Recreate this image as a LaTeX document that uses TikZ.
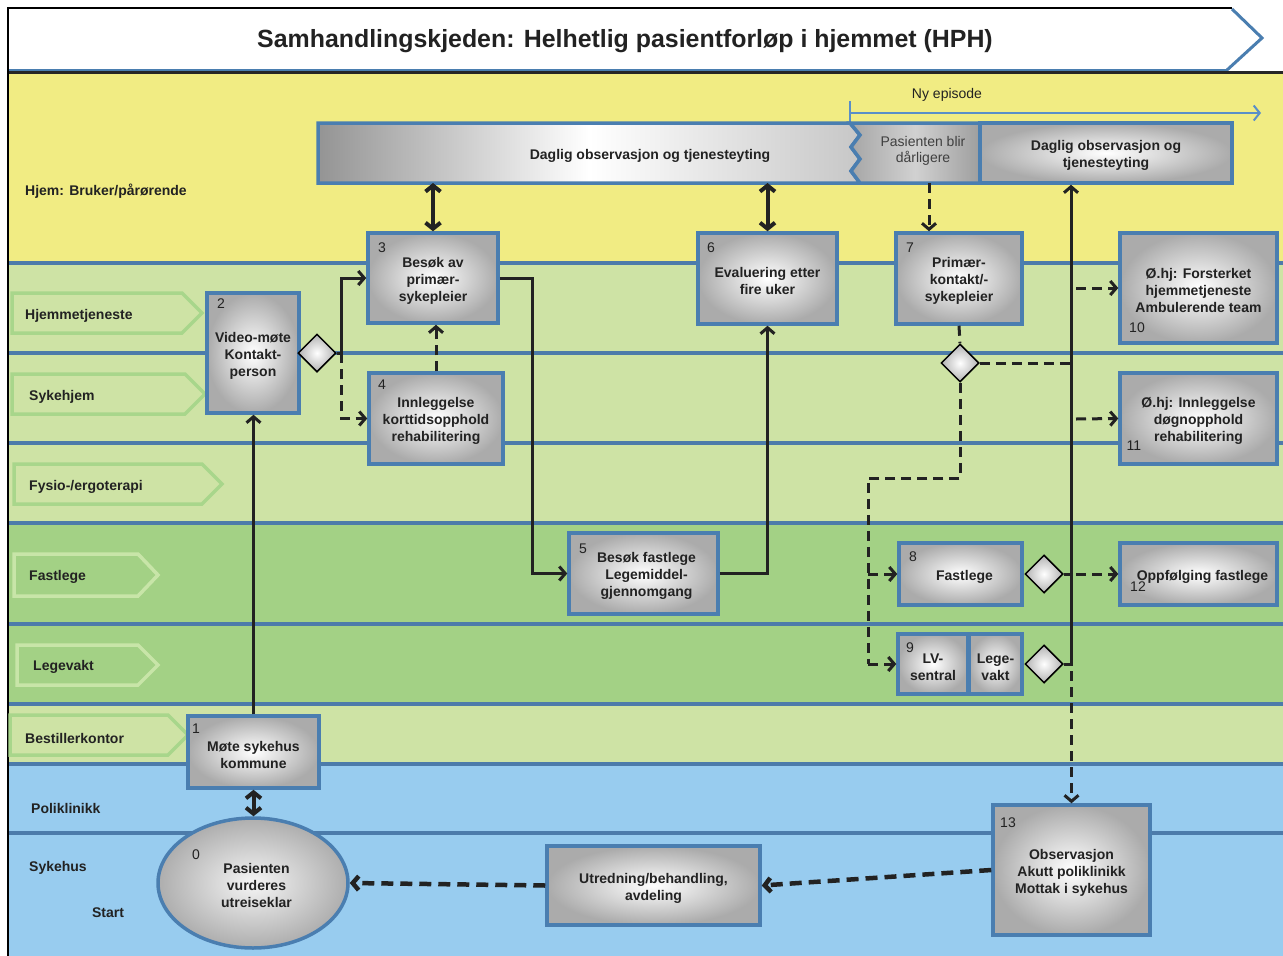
\documentclass[tikz,border=0pt]{standalone}
\usepackage{fontspec}
\setmainfont{Liberation Sans}
\usetikzlibrary{arrows.meta,shapes.geometric,calc}
\definecolor{yel}{HTML}{F1EC83}
\definecolor{lgreen}{HTML}{CEE3A5}
\definecolor{dgreen}{HTML}{A3D185}
\definecolor{lblue}{HTML}{98CCEF}
\definecolor{laneline}{HTML}{4C7BAA}
\definecolor{boxborder}{HTML}{4A7EB0}
\definecolor{chev}{HTML}{A8D68B}
\definecolor{chevlight}{HTML}{C8E5A8}
\definecolor{txt}{HTML}{222222}
\definecolor{nyblue}{HTML}{5A8FC8}
\newcommand\bxstrut{\rule{0pt}{15.5pt}}
\tikzset{
  box/.style={draw=boxborder, line width=3.5pt, inner color=white, outer color=black!33,
    inner sep=0pt, align=center, font=\bfseries\fontsize{14}{17}\selectfont, text=txt},
  num/.style={font=\fontsize{14}{14}\selectfont, text=txt, inner sep=0pt},
  lanelabel/.style={font=\bfseries\fontsize{14}{16}\selectfont, anchor=west, inner sep=0pt, text=txt},
  decision/.style={diamond, aspect=1, draw=black, line width=1.5pt, inner color=white, outer color=black!30,
    minimum width=38pt, minimum height=38pt, inner sep=0pt},
  arr/.style={draw=txt, line width=3pt, -{Straight Barb[length=6pt,width=14pt]}},
  plain/.style={draw=txt, line width=3pt},
  darr/.style={arr, dash pattern=on 10pt off 6pt},
  dplain/.style={plain, dash pattern=on 10pt off 6pt},
  dbl/.style={draw=txt, line width=4pt, {Straight Barb[length=6pt,width=15pt]}-{Straight Barb[length=6pt,width=15pt]}},
  chevron/.style={draw=chev, line width=3.5pt},
  chevronl/.style={draw=chevlight, line width=3.5pt},
  lane/.style={draw=laneline, line width=4pt}
}
\begin{document}
\begin{tikzpicture}[x=1pt,y=-1pt]
\useasboundingbox (0,0) rectangle (1283,956);
% backgrounds
\fill[white] (0,0) rectangle (1283,956);
\fill[yel] (8,72) rectangle (1283,263);
\fill[lgreen] (8,263) rectangle (1283,523);
\fill[dgreen] (8,523) rectangle (1283,705);
\fill[lgreen] (8,705) rectangle (1283,765);
\fill[lblue] (8,765) rectangle (1283,956);
% lane lines
\foreach \yy in {263,353,443,523,624,704,764,833} \draw[lane] (8,\yy) -- (1283,\yy);
% title frame
\draw[boxborder, line width=3pt] (8,70) -- (1228,70);
\draw[black!85, line width=2.5pt] (8,72.5) -- (1283,72.5);
\draw[boxborder, line width=3pt] (1232,9) -- (1262,38) -- (1227,70);
\draw[black, line width=2.5pt] (8,956) -- (8,8) -- (1232,8);
\node[font=\bfseries\fontsize{24.9}{26}\selectfont, text=txt] (title) at (625,41) {Samhandlingskjeden: Helhetlig pasientforløp i hjemmet (HPH)};
% lane chevrons
\draw[chevron] (12,293) -- (182,293) -- (202,313) -- (182,333) -- (12,333) -- cycle;
\draw[chevron] (12,374) -- (185,374) -- (205,394) -- (185,414) -- (12,414) -- cycle;
\draw[chevron] (14,464) -- (202,464) -- (222,484) -- (202,504) -- (14,504) -- cycle;
\draw[chevronl] (14,554) -- (138,554) -- (158,575) -- (138,596) -- (14,596) -- cycle;
\draw[chevronl] (17,645) -- (138,645) -- (158,665) -- (138,685) -- (17,685) -- cycle;
\draw[chevron] (10,715) -- (168,715) -- (188,735) -- (168,755) -- (10,755) -- cycle;
% lane labels
\node[lanelabel] (lhjem) at (25,191) {Hjem: Bruker/pårørende};
\node[lanelabel] (lhjt) at (25,316) {Hjemmetjeneste};
\node[lanelabel] (lsyk) at (29,397) {Sykehjem};
\node[lanelabel] (lfys) at (29,487) {Fysio-/ergoterapi};
\node[lanelabel] (lfast) at (29,577) {Fastlege};
\node[lanelabel] (llv) at (33,667) {Legevakt};
\node[lanelabel] (lbest) at (25,738) {Bestillerkontor};
\node[lanelabel] (lpol) at (31,808) {Poliklinikk};
\node[lanelabel] (lsh) at (29,868) {Sykehus};
\node[lanelabel, anchor=center] (lstart) at (108,913) {Start};
% Ny episode
\draw[nyblue, line width=2pt] (850,101) -- (850,124);
\coordinate (nyA) at (850,113);
\coordinate (nyB) at (1261,113);
\draw[nyblue, line width=2pt, -{Straight Barb[length=6pt,width=15pt]}] (nyA) -- (nyB);
\node[font=\fontsize{14}{14}\selectfont, text=txt] (ny) at (947,95) {Ny episode};
% top boxes
\path[draw=boxborder, line width=3.5pt, left color=black!42, right color=black!22, middle color=white]
  (318,123) -- (850,123) -- (860,135) -- (851,147) -- (860,159) -- (851,171) -- (860,183) -- (318,183) -- cycle;
\node[font=\bfseries\fontsize{14}{17}\selectfont, text=txt] (daglig1) at (650,156) {Daglig observasjon og tjenesteyting};
\path[draw=boxborder, line width=3.5pt, left color=black!35, right color=black!38, middle color=black!18]
  (850,123) -- (980,123) -- (980,183) -- (860,183) -- (851,171) -- (860,159) -- (851,147) -- (860,135) -- cycle;
\node[align=center, font=\fontsize{14}{16}\selectfont, text=black!75] (pas) at (923,151) {Pasienten blir\\dårligere};
\node[box, minimum width=252pt, minimum height=60pt] (daglig2) at (1106,153) {\bxstrut Daglig observasjon og\\tjenesteyting};
\coordinate (bigS3) at (433,183);
\coordinate (bigS6) at (767.5,183);
\coordinate (pasS) at (929,183);
% process boxes
\node[box, minimum width=131pt, minimum height=72pt] (n1) at (253.5,752) {\bxstrut Møte sykehus\\kommune};
\node[box, minimum width=92pt, minimum height=120pt] (n2) at (253,353) {\bxstrut Video-møte\\Kontakt-\\person};
\node[box, minimum width=130pt, minimum height=90pt] (n3) at (433,278) {\bxstrut Besøk av\\primær-\\sykepleier};
\node[box, minimum width=134pt, minimum height=91pt] (n4) at (436,418.5) {\bxstrut Innleggelse\\korttidsopphold\\rehabilitering};
\node[box, minimum width=149pt, minimum height=81pt] (n5) at (643.5,573.5) {\hspace*{6pt}\bxstrut Besøk fastlege\\\hspace*{6pt}Legemiddel-\\\hspace*{6pt}gjennomgang};
\node[box, minimum width=139pt, minimum height=91pt] (n6) at (767.5,278.5) {\bxstrut Evaluering etter\\fire uker};
\node[box, minimum width=126pt, minimum height=91pt] (n7) at (959,278.5) {\bxstrut Primær-\\kontakt/-\\sykepleier};
\node[box, minimum width=123pt, minimum height=62pt] (n8) at (960.5,574) {\hspace*{8pt}\bxstrut Fastlege};
\node[box, minimum width=70pt, minimum height=60pt] (n9a) at (933,664) {\bxstrut LV-\\sentral};
\node[box, minimum width=53pt, minimum height=60pt] (n9b) at (995.5,664) {\bxstrut Lege-\\vakt};
\node[box, minimum width=157pt, minimum height=110pt] (n10) at (1198.5,288) {\bxstrut Ø.hj: Forsterket\\hjemmetjeneste\\Ambulerende team};
\node[box, minimum width=157pt, minimum height=91pt] (n11) at (1198.5,418.5) {\bxstrut Ø.hj: Innleggelse\\døgnopphold\\rehabilitering};
\node[box, minimum width=157pt, minimum height=62pt] (n12) at (1198.5,574) {\hspace*{8pt}\bxstrut Oppfølging fastlege};
\node[box, minimum width=157pt, minimum height=130pt] (n13) at (1071.5,870) {\bxstrut Observasjon\\Akutt poliklinikk\\Mottak i sykehus};
\node[box, minimum width=213pt, minimum height=79pt] (nU) at (653.5,885.5) {\bxstrut Utredning/behandling,\\avdeling};
\node[box, ellipse, minimum width=190pt, minimum height=130pt, inner color=black!4, outer color=black!32] (n0) at (253,883) {\hspace*{7pt}\bxstrut Pasienten\\\hspace*{7pt}vurderes\\\hspace*{7pt}utreiseklar};
% numbers
\node[num] (k0) at (196,855) {0};
\node[num] (k1) at (196,729) {1};
\node[num] (k2) at (221,304) {2};
\node[num] (k3) at (382,248) {3};
\node[num] (k4) at (382,385) {4};
\node[num] (k5) at (583,549) {5};
\node[num] (k6) at (711,248) {6};
\node[num] (k7) at (910,248) {7};
\node[num] (k8) at (913,557) {8};
\node[num] (k9) at (910,648) {9};
\node[num] (k10) at (1137,328) {10};
\node[num] (k11) at (1134,446) {11};
\node[num] (k12) at (1138,587) {12};
\node[num] (k13) at (1008,823) {13};
% decisions
\node[decision] (d2) at (317,353) {};
\node[decision] (d7) at (960,363) {};
\node[decision] (d8) at (1044,574) {};
\node[decision] (d9) at (1044,664) {};
% connectors
\draw[arr] (n1.north) -- (n1.north |- n2.south);
\draw[dbl] (n1.south) -- (n1.south |- n0.north);
\coordinate (j2) at (341,353);
\draw[arr] (d2.east) -- (j2) |- (n3.west);
\draw[darr] (j2) |- (n4.west);
\draw[darr] (n4.north) -- (n4.north |- n3.south);
\coordinate (j3) at (532,278);
\draw[arr] (n3.east) -- (j3) |- (n5.west);
\draw[arr] (n5.east) -| (n6.south);
\draw[dbl] (bigS3) -- (bigS3 |- n3.north);
\draw[dbl] (bigS6) -- (bigS6 |- n6.north);
\draw[darr] (pasS) -- (pasS |- n7.north);
\draw[dplain] (n7.south) -- (d7.north);
\coordinate (v9) at (1071,664);
\coordinate (v8) at (1071,574);
\draw[arr] (d9.east) -- (v9) -- (v9 |- daglig2.south);
\draw[plain] (d8.east) -- (v8);
\draw[darr] (d7.east) -| (n13.north);
\coordinate (h10) at (1076,288);
\coordinate (h11) at (1076,419);
\coordinate (h12) at (1076,574);
\draw[darr] (h10) -- (n10.west);
\draw[darr] (h11) -- (n11.west);
\draw[darr] (h12) -- (n12.west);
\coordinate (c1) at (868,478);
\coordinate (c2) at (868,664);
\draw[dplain] (d7.south) |- (c1) -- (c2);
\draw[darr] (c1 |- n8.west) -- (n8.west);
\draw[darr] (c2) -- (n9a.west);
\draw[darr, line width=4.5pt, dash pattern=on 12pt off 7pt] (n13.west) -- (nU.east);
\draw[darr, line width=4.5pt, dash pattern=on 12pt off 7pt] (nU.west) -- (n0.east);
\end{tikzpicture}
\end{document}
